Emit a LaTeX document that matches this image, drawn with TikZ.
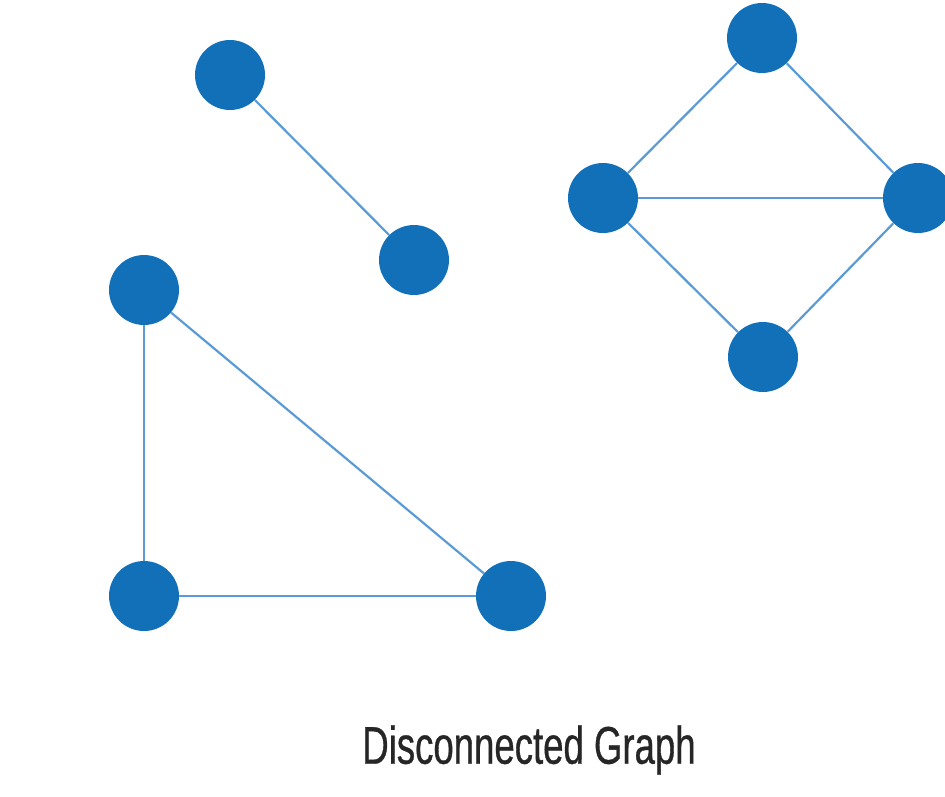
\documentclass[tikz,border=0pt]{standalone}
\usepackage{fontspec}
\newfontfamily\capfont[FakeStretch=0.69,FakeBold=0.6]{Liberation Sans}
\definecolor{nodeblue}{HTML}{1170B8}
\definecolor{edgeblue}{HTML}{5A9BD5}
\begin{document}
\begin{tikzpicture}[x=1pt,y=-1pt,
  vtx/.style={circle,fill=nodeblue,draw=none,minimum size=70pt,inner sep=0pt},
  edge/.style={draw=edgeblue,line width=2.2pt}]
\useasboundingbox (0,0) rectangle (945,796);
\clip (0,0) rectangle (945,796);
\node[vtx] (A) at (230,75) {};
\node[vtx] (B) at (414,260) {};
\node[vtx] (C) at (144,290) {};
\node[vtx] (D) at (144,596) {};
\node[vtx] (E) at (511,596) {};
\node[vtx] (F) at (762,38) {};
\node[vtx] (G) at (603,198) {};
\node[vtx] (H) at (918,198) {};
\node[vtx] (I) at (763,357) {};
\path[edge] (A) -- (B);
\path[edge] (C) -- (D);
\path[edge] (C) -- (E);
\path[edge] (D) -- (E);
\path[edge] (F) -- (G);
\path[edge] (F) -- (H);
\path[edge] (G) -- (H);
\path[edge] (G) -- (I);
\path[edge] (H) -- (I);
\node[inner sep=0pt,text=black!85] (T) at (529,750) {\capfont\fontsize{53}{60}\selectfont Disconnected Graph};
\end{tikzpicture}
\end{document}
